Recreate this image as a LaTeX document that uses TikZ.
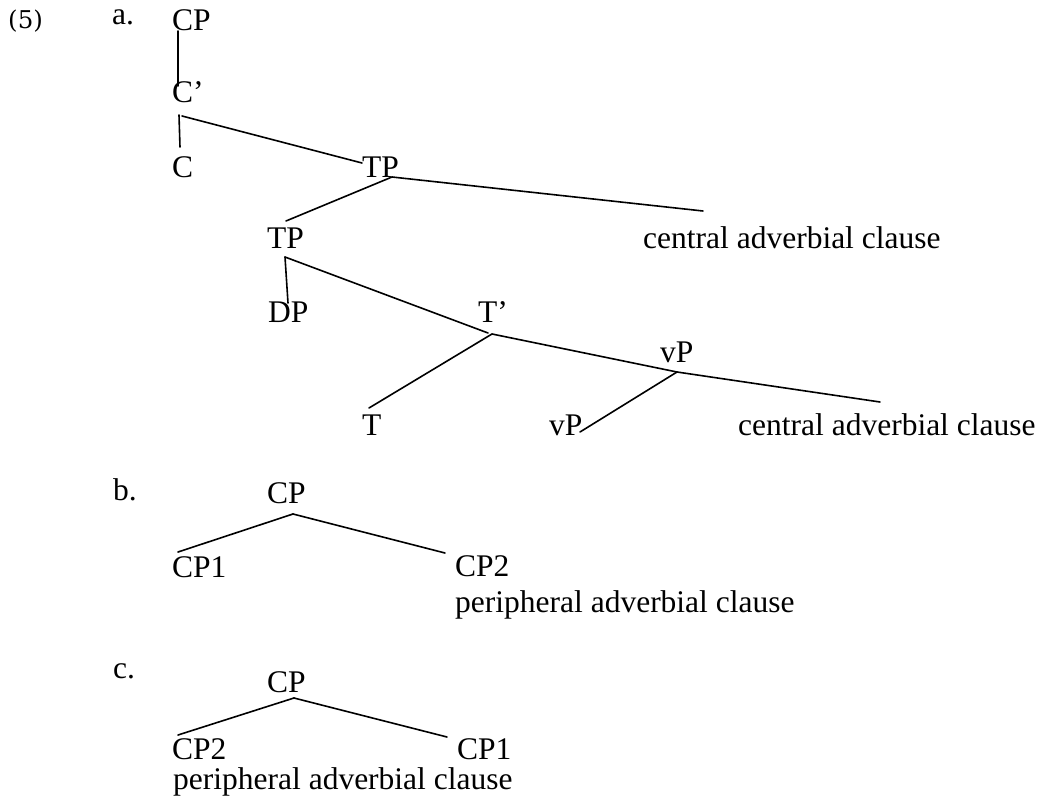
\documentclass[tikz,border=0pt]{standalone}
\usepackage{fontspec}
\setmainfont{Liberation Serif}
\newfontfamily\numfont{DejaVu Serif}
\begin{document}
\begin{tikzpicture}[x=1pt,y=-1pt,
  lbl/.style={anchor=base west,inner sep=0pt,font=\fontsize{31.5}{36}\selectfont},
  exnum/.style={anchor=base west,inner sep=0pt,font=\numfont\fontsize{24.5}{28}\selectfont},
  br/.style={line width=1.6pt,line cap=round}]
\useasboundingbox (0,0) rectangle (1042,805);
\fill[white] (0,0) rectangle (1042,805);

% labels
\node[exnum] (ex) at (8,29) {(5)};
\node[lbl] (la) at (112,25) {a.};
\node[lbl] (aCP) at (172,31) {CP};
\node[lbl] (aC1) at (172,103) {C’};
\node[lbl] (aC) at (172,178) {C};
\node[lbl] (aTPu) at (362,178) {TP};
\node[lbl] (aTPl) at (267,249) {TP};
\node[lbl] (aCAC1) at (643,249) {central adverbial clause};
\node[lbl] (aDP) at (268,323) {DP};
\node[lbl] (aT1) at (478,323) {T’};
\node[lbl] (avPu) at (660,362) {vP};
\node[lbl] (aT) at (362,435) {T};
\node[lbl] (avPl) at (549,435) {vP};
\node[lbl] (aCAC2) at (738,435) {central adverbial clause};

\node[lbl] (lb) at (113,500) {b.};
\node[lbl] (bCP) at (267,503) {CP};
\node[lbl] (bCP1) at (172,577) {CP1};
\node[lbl] (bCP2) at (455,576) {CP2};
\node[lbl] (bPAC) at (455,612) {peripheral adverbial clause};

\node[lbl] (lc) at (113,678) {c.};
\node[lbl] (cCP) at (267,692) {CP};
\node[lbl] (cCP2) at (172,759) {CP2};
\node[lbl] (cCP1) at (457,759) {CP1};
\node[lbl] (cPAC) at (173,789) {peripheral adverbial clause};

% connector points
\coordinate (pCPb) at (178,31);
\coordinate (pC1t) at (178,86);
\coordinate (pC1b) at (179,115);
\coordinate (pC1r) at (182,116);
\coordinate (pCt) at (180,147);
\coordinate (pTPut) at (362,163);
\coordinate (pTPub) at (392,177);
\coordinate (pCAC1) at (703,211);
\coordinate (pTPlt) at (286,221);
\coordinate (pTPlb) at (285,257);
\coordinate (pDPt) at (288,303);
\coordinate (pT1t) at (488,333);
\coordinate (pT1b) at (492,334);
\coordinate (pTt) at (369,408);
\coordinate (pvPu) at (677,372);
\coordinate (pvPl) at (580,432);
\coordinate (pCAC2) at (880,402);

\coordinate (pbCP) at (293,514);
\coordinate (pbCP1) at (178,552);
\coordinate (pbCP2) at (445,553);
\coordinate (pcCP) at (294,698);
\coordinate (pcCP2) at (178,735);
\coordinate (pcCP1) at (447,737);

% tree a
\draw[br] (pCPb) -- (pC1t);
\draw[br] (pC1b) -- (pCt);
\draw[br] (pC1r) -- (pTPut);
\draw[br] (pTPub) -- (pCAC1);
\draw[br] (pTPub) -- (pTPlt);
\draw[br] (pTPlb) -- (pDPt);
\draw[br] (pTPlb) -- (pT1t);
\draw[br] (pT1b) -- (pTt);
\draw[br] (pT1b) -- (pvPu);
\draw[br] (pvPu) -- (pvPl);
\draw[br] (pvPu) -- (pCAC2);

% tree b
\draw[br] (pbCP) -- (pbCP1);
\draw[br] (pbCP) -- (pbCP2);
% tree c
\draw[br] (pcCP) -- (pcCP2);
\draw[br] (pcCP) -- (pcCP1);
\end{tikzpicture}
\end{document}
